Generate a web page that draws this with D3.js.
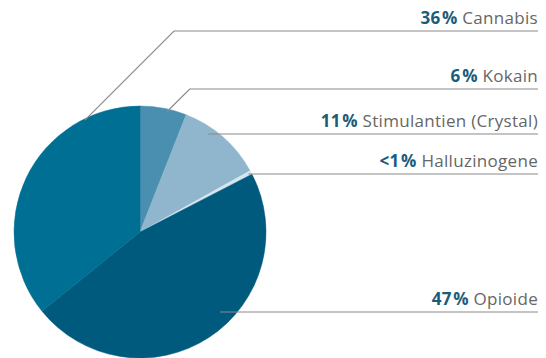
<!DOCTYPE html>
<html>
<head>
<meta charset="utf-8">
<script src="https://cdn.jsdelivr.net/npm/d3@7"></script>
<style>
  html, body { margin: 0; padding: 0; background: #fff; }
  svg { display: block; }
</style>
</head>
<body>
<svg id="chart" width="546" height="358"></svg>
<script>
// Share of substances, clockwise from 12 o'clock
const categories = ["Kokain", "Stimulantien (Crystal)", "Halluzinogene", "Opioide", "Cannabis"];
const shares = [6, 11, 0.5, 47, 36];
const shareNumbers = ["6", "11", "<1", "47", "36"];
const sliceColors = ["#4a8fb0", "#8fb6cd", "#d6e6ef", "#005a7e", "#006f94"];

// Layout of the label column
const W = 546, H = 358;
const cx = 140, cy = 232, r = 126;
const lineEnd = 538;
const labelRows = [89, 134, 174, 312, 31];          // y of each leader rule
const anchorDeg = [12.7, 34.8, 61.4, 135, 333.8];    // where each leader starts on its slice
const anchorFrac = [0.98, 0.95, 0.98, 0.9, 0.99];

const svg = d3.select("#chart");

const data = categories.map((c, i) => ({
  name: c, value: shares[i], num: shareNumbers[i], color: sliceColors[i],
  row: labelRows[i], deg: anchorDeg[i], frac: anchorFrac[i]
}));

const pie = d3.pie().sort(null).value(d => d.value);
const arcs = pie(data);
const arc = d3.arc().innerRadius(0).outerRadius(r);

const g = svg.append("g").attr("transform", `translate(${cx},${cy})`);

g.selectAll("path.slice")
  .data(arcs)
  .join("path")
  .attr("class", "slice")
  .attr("d", arc)
  .attr("fill", d => d.data.color)
  .attr("stroke", d => d.data.color)
  .attr("stroke-width", 0.5);

// Leader lines: from the anchor, a 45° diagonal up to the label row if needed, then horizontal
const leaders = svg.append("g").attr("fill", "none").attr("stroke", "#8a8a8a").attr("stroke-width", 1.2);

data.forEach(d => {
  const ang = d.deg * Math.PI / 180;
  const rr = r * d.frac;
  const ax = cx + rr * Math.sin(ang);
  const ay = cy - rr * Math.cos(ang);
  const y = d.row;
  const pts = [];
  if (Math.abs(ay - y) > 3) {
    pts.push([ax, ay], [ax + (ay - y), y]);
  } else {
    pts.push([ax, y]);
  }
  pts.push([lineEnd, y]);
  leaders.append("path").attr("d", d3.line()(pts));
});

// Labels, right-aligned above each rule
const labels = svg.append("g")
  .attr("font-family", "'Open Sans', Lato, sans-serif")
  .attr("font-size", 17)
  .attr("letter-spacing", 0.3)
  .attr("text-anchor", "end");

data.forEach(d => {
  const t = labels.append("text")
    .attr("x", lineEnd)
    .attr("y", d.row - 7);
  t.append("tspan").attr("font-weight", "bold").attr("fill", "#1b5c7b").text(d.num);
  t.append("tspan").attr("font-weight", "bold").attr("fill", "#1b5c7b").attr("dx", 1.5).text("%");
  t.append("tspan").attr("fill", "#666666").text(" " + d.name);
});
</script>
</body>
</html>
